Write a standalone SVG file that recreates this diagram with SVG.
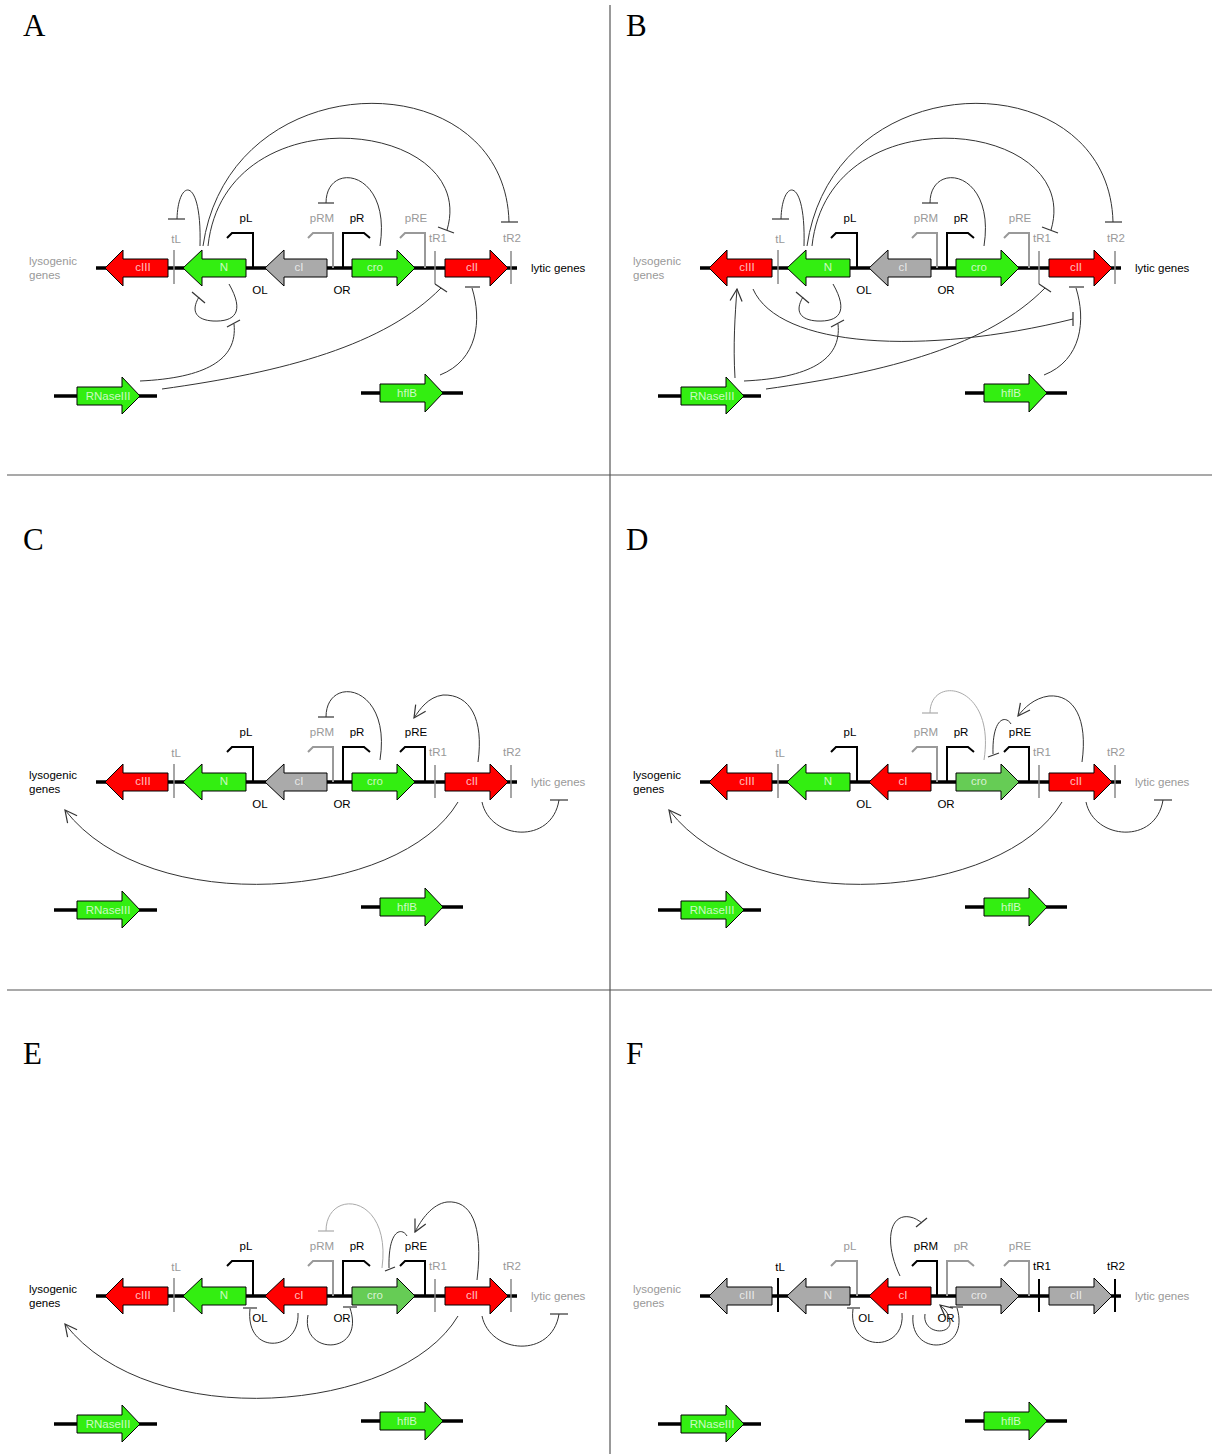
<svg xmlns="http://www.w3.org/2000/svg" width="1212" height="1454" viewBox="0 0 1212 1454">
<style>
text{font-family:"Liberation Sans",Arial,sans-serif;font-size:11.5px}
.pl{font-family:"Liberation Serif","Times New Roman",serif;font-size:31px;fill:#000}
.frame{stroke:#555;stroke-width:1.2}
.gl{stroke:#000;stroke-width:3.5}
.gene{stroke:#000;stroke-width:1}
.red{fill:#ff0000}.grn{fill:#33ee11}.gry{fill:#aaaaaa}.lgr{fill:#66cc55}
.glab{fill:#fff;fill-opacity:.75;text-anchor:middle}
.lk{fill:#000}.lg{fill:#999}
.mid{text-anchor:middle}
.pk{fill:none;stroke:#000;stroke-width:2}
.pg{fill:none;stroke:#999;stroke-width:2}
.tg{stroke:#888;stroke-width:1.5}
.tk{stroke:#000;stroke-width:2}
.con{fill:none;stroke:#333;stroke-width:1}
.cong{fill:none;stroke:#aaa;stroke-width:1}
.tb{stroke:#333;stroke-width:1.2}
.tbg{stroke:#aaa;stroke-width:1.2}
.ar{marker-end:url(#arr)}
</style>
<defs>
<marker id="arr" viewBox="0 0 14 14" refX="13" refY="7" markerWidth="14" markerHeight="14" markerUnits="userSpaceOnUse" orient="auto">
<path d="M1,1 L13,7 L1,13" fill="none" stroke="#333" stroke-width="1.2"/>
</marker>
</defs>
<rect width="1212" height="1454" fill="#fff"/>
<g id="frame">
<line class="frame" x1="610" y1="5" x2="610" y2="1454"/>
<line class="frame" x1="7" y1="475" x2="1212" y2="475"/>
<line class="frame" x1="7" y1="990" x2="1212" y2="990"/>
</g>

<!-- PANEL A -->
<g id="panelA">
<text class="pl" x="23" y="36">A</text>
<g id="A-genome">
<line class="gl" x1="96" y1="268" x2="517" y2="268"/>
<text class="lg" x="29" y="265">lysogenic</text><text class="lg" x="29" y="279">genes</text>
<text class="lk" x="531" y="272">lytic genes</text>
<polygon class="gene red" points="105,268 123,250 123,259 168,259 168,277 123,277 123,286"/><text class="glab" x="143" y="271">cIII</text>
<polygon class="gene grn" points="183,268 202,250 202,259 246,259 246,277 202,277 202,286"/><text class="glab" x="224" y="271">N</text>
<polygon class="gene gry" points="265,268 284,250 284,259 327,259 327,277 284,277 284,286"/><text class="glab" x="299" y="271">cI</text>
<polygon class="gene grn" points="352,259 397,259 397,250 415,268 397,286 397,277 352,277"/><text class="glab" x="375" y="271">cro</text>
<polygon class="gene red" points="445,259 490,259 490,250 508,268 490,286 490,277 445,277"/><text class="glab" x="472" y="271">cII</text>
<line class="tg" x1="174" y1="250" x2="174" y2="284"/><text class="lg mid" x="176" y="243">tL</text>
<line class="tg" x1="435" y1="251" x2="435" y2="284"/><text class="lg mid" x="438" y="242">tR1</text>
<line class="tg" x1="511" y1="251" x2="511" y2="284"/><text class="lg mid" x="512" y="242">tR2</text>
<path class="pk" d="M253,268 V233 H232 L227,238"/><text class="lk mid" x="246" y="222">pL</text>
<path class="pg" d="M333,268 V233 H313 L308,238"/><text class="lg mid" x="322" y="222">pRM</text>
<path class="pk" d="M343,268 V233 H364 L370,238"/><text class="lk mid" x="357" y="222">pR</text>
<path class="pg" d="M425,268 V233 H405 L400,238"/><text class="lg mid" x="416" y="222">pRE</text>
<text class="lk mid" x="260" y="294">OL</text><text class="lk mid" x="342" y="294">OR</text>
<line class="gl" x1="54" y1="396" x2="157" y2="396"/>
<polygon class="gene grn" points="77,387 122,387 122,377 140,396 122,414 122,405 77,405"/><text class="glab" x="108" y="400">RNaseIII</text>
<line class="gl" x1="361" y1="393" x2="463" y2="393"/>
<polygon class="gene grn" points="380,384 425,384 425,374 443,393 425,412 425,402 380,402"/><text class="glab" x="407" y="397">hflB</text>
</g>
<g id="A-connectors">
<path class="con" d="M200,246 C202,175 178,178 177,219"/><line class="tb" x1="168" y1="219" x2="185" y2="219"/>
<path class="con" d="M203,246 C230,60 505,60 509,222"/><line class="tb" x1="501" y1="222" x2="518" y2="222"/>
<path class="con" d="M208,246 C225,90 480,120 447,230"/><line class="tb" x1="438" y1="227" x2="454" y2="233"/>
<path class="con" d="M380,246 C392,170 326,160 326,203"/><line class="tb" x1="318" y1="203" x2="334" y2="203"/>
<path class="con" d="M229,284 C245,312 235,322 213,321 C197,320 190,312 199,297"/><line class="tb" x1="192" y1="292" x2="205" y2="303"/>
<path class="con" d="M140,381 C205,378 238,360 234,324"/><line class="tb" x1="227" y1="327" x2="240" y2="320"/>
<path class="con" d="M162,389 C285,372 385,345 441,288"/><line class="tb" x1="435" y1="284" x2="447" y2="292"/>
<path class="con" d="M440,375 C478,360 482,320 472,288"/><line class="tb" x1="465" y1="287" x2="480" y2="287"/>
</g>
</g>

<!-- PANEL B -->
<g id="panelB">
<text class="pl" x="626" y="36">B</text>
<g transform="translate(604,0)">
<g id="B-genome">
<line class="gl" x1="96" y1="268" x2="517" y2="268"/>
<text class="lg" x="29" y="265">lysogenic</text><text class="lg" x="29" y="279">genes</text>
<text class="lk" x="531" y="272">lytic genes</text>
<polygon class="gene red" points="105,268 123,250 123,259 168,259 168,277 123,277 123,286"/><text class="glab" x="143" y="271">cIII</text>
<polygon class="gene grn" points="183,268 202,250 202,259 246,259 246,277 202,277 202,286"/><text class="glab" x="224" y="271">N</text>
<polygon class="gene gry" points="265,268 284,250 284,259 327,259 327,277 284,277 284,286"/><text class="glab" x="299" y="271">cI</text>
<polygon class="gene grn" points="352,259 397,259 397,250 415,268 397,286 397,277 352,277"/><text class="glab" x="375" y="271">cro</text>
<polygon class="gene red" points="445,259 490,259 490,250 508,268 490,286 490,277 445,277"/><text class="glab" x="472" y="271">cII</text>
<line class="tg" x1="174" y1="250" x2="174" y2="284"/><text class="lg mid" x="176" y="243">tL</text>
<line class="tg" x1="435" y1="251" x2="435" y2="284"/><text class="lg mid" x="438" y="242">tR1</text>
<line class="tg" x1="511" y1="251" x2="511" y2="284"/><text class="lg mid" x="512" y="242">tR2</text>
<path class="pk" d="M253,268 V233 H232 L227,238"/><text class="lk mid" x="246" y="222">pL</text>
<path class="pg" d="M333,268 V233 H313 L308,238"/><text class="lg mid" x="322" y="222">pRM</text>
<path class="pk" d="M343,268 V233 H364 L370,238"/><text class="lk mid" x="357" y="222">pR</text>
<path class="pg" d="M425,268 V233 H405 L400,238"/><text class="lg mid" x="416" y="222">pRE</text>
<text class="lk mid" x="260" y="294">OL</text><text class="lk mid" x="342" y="294">OR</text>
<line class="gl" x1="54" y1="396" x2="157" y2="396"/>
<polygon class="gene grn" points="77,387 122,387 122,377 140,396 122,414 122,405 77,405"/><text class="glab" x="108" y="400">RNaseIII</text>
<line class="gl" x1="361" y1="393" x2="463" y2="393"/>
<polygon class="gene grn" points="380,384 425,384 425,374 443,393 425,412 425,402 380,402"/><text class="glab" x="407" y="397">hflB</text>
</g>
<g id="B-connectors">
<path class="con" d="M200,246 C202,175 178,178 177,219"/><line class="tb" x1="168" y1="219" x2="185" y2="219"/>
<path class="con" d="M203,246 C230,60 505,60 509,222"/><line class="tb" x1="501" y1="222" x2="518" y2="222"/>
<path class="con" d="M208,246 C225,90 480,120 447,230"/><line class="tb" x1="438" y1="227" x2="454" y2="233"/>
<path class="con" d="M380,246 C392,170 326,160 326,203"/><line class="tb" x1="318" y1="203" x2="334" y2="203"/>
<path class="con" d="M229,284 C245,312 235,322 213,321 C197,320 190,312 199,297"/><line class="tb" x1="192" y1="292" x2="205" y2="303"/>
<path class="con" d="M140,381 C205,378 238,360 234,324"/><line class="tb" x1="227" y1="327" x2="240" y2="320"/>
<path class="con" d="M162,389 C285,372 385,345 441,288"/><line class="tb" x1="435" y1="284" x2="447" y2="292"/>
<path class="con" d="M440,375 C478,360 482,320 472,288"/><line class="tb" x1="465" y1="287" x2="480" y2="287"/>
<path class="con ar" d="M131,378 C129,345 131,315 133,289"/>
<path class="con" d="M149,289 C175,348 320,356 469,319"/><line class="tb" x1="469" y1="312" x2="469" y2="326"/>
</g>
</g>
</g>

<!-- PANEL C -->
<g id="panelC">
<text class="pl" x="23" y="550">C</text>
<g transform="translate(0,514)">
<g id="C-genome">
<line class="gl" x1="96" y1="268" x2="517" y2="268"/>
<text class="lk" x="29" y="265">lysogenic</text><text class="lk" x="29" y="279">genes</text>
<text class="lg" x="531" y="272">lytic genes</text>
<polygon class="gene red" points="105,268 123,250 123,259 168,259 168,277 123,277 123,286"/><text class="glab" x="143" y="271">cIII</text>
<polygon class="gene grn" points="183,268 202,250 202,259 246,259 246,277 202,277 202,286"/><text class="glab" x="224" y="271">N</text>
<polygon class="gene gry" points="265,268 284,250 284,259 327,259 327,277 284,277 284,286"/><text class="glab" x="299" y="271">cI</text>
<polygon class="gene grn" points="352,259 397,259 397,250 415,268 397,286 397,277 352,277"/><text class="glab" x="375" y="271">cro</text>
<polygon class="gene red" points="445,259 490,259 490,250 508,268 490,286 490,277 445,277"/><text class="glab" x="472" y="271">cII</text>
<line class="tg" x1="174" y1="250" x2="174" y2="284"/><text class="lg mid" x="176" y="243">tL</text>
<line class="tg" x1="435" y1="251" x2="435" y2="284"/><text class="lg mid" x="438" y="242">tR1</text>
<line class="tg" x1="511" y1="251" x2="511" y2="284"/><text class="lg mid" x="512" y="242">tR2</text>
<path class="pk" d="M253,268 V233 H232 L227,238"/><text class="lk mid" x="246" y="222">pL</text>
<path class="pg" d="M333,268 V233 H313 L308,238"/><text class="lg mid" x="322" y="222">pRM</text>
<path class="pk" d="M343,268 V233 H364 L370,238"/><text class="lk mid" x="357" y="222">pR</text>
<path class="pk" d="M425,268 V233 H405 L400,238"/><text class="lk mid" x="416" y="222">pRE</text>
<text class="lk mid" x="260" y="294">OL</text><text class="lk mid" x="342" y="294">OR</text>
<line class="gl" x1="54" y1="396" x2="157" y2="396"/>
<polygon class="gene grn" points="77,387 122,387 122,377 140,396 122,414 122,405 77,405"/><text class="glab" x="108" y="400">RNaseIII</text>
<line class="gl" x1="361" y1="393" x2="463" y2="393"/>
<polygon class="gene grn" points="380,384 425,384 425,374 443,393 425,412 425,402 380,402"/><text class="glab" x="407" y="397">hflB</text>
</g>
<g id="C-connectors">
<path class="con" d="M380,246 C392,170 326,160 326,203"/><line class="tb" x1="318" y1="203" x2="334" y2="203"/>
<path class="con ar" d="M478,248 C484,205 470,180 443,181 C428,183 420,195 414,204"/>
<path class="con ar" d="M458,288 C400,386 150,406 65,296"/>
<path class="con" d="M482,288 C490,326 552,331 559,286"/><line class="tb" x1="550" y1="286" x2="568" y2="286"/>
</g>
</g>
</g>

<!-- PANEL D -->
<g id="panelD">
<text class="pl" x="626" y="550">D</text>
<g transform="translate(604,514)">
<g id="D-genome">
<line class="gl" x1="96" y1="268" x2="517" y2="268"/>
<text class="lk" x="29" y="265">lysogenic</text><text class="lk" x="29" y="279">genes</text>
<text class="lg" x="531" y="272">lytic genes</text>
<polygon class="gene red" points="105,268 123,250 123,259 168,259 168,277 123,277 123,286"/><text class="glab" x="143" y="271">cIII</text>
<polygon class="gene grn" points="183,268 202,250 202,259 246,259 246,277 202,277 202,286"/><text class="glab" x="224" y="271">N</text>
<polygon class="gene red" points="265,268 284,250 284,259 327,259 327,277 284,277 284,286"/><text class="glab" x="299" y="271">cI</text>
<polygon class="gene lgr" points="352,259 397,259 397,250 415,268 397,286 397,277 352,277"/><text class="glab" x="375" y="271">cro</text>
<polygon class="gene red" points="445,259 490,259 490,250 508,268 490,286 490,277 445,277"/><text class="glab" x="472" y="271">cII</text>
<line class="tg" x1="174" y1="250" x2="174" y2="284"/><text class="lg mid" x="176" y="243">tL</text>
<line class="tg" x1="435" y1="251" x2="435" y2="284"/><text class="lg mid" x="438" y="242">tR1</text>
<line class="tg" x1="511" y1="251" x2="511" y2="284"/><text class="lg mid" x="512" y="242">tR2</text>
<path class="pk" d="M253,268 V233 H232 L227,238"/><text class="lk mid" x="246" y="222">pL</text>
<path class="pg" d="M333,268 V233 H313 L308,238"/><text class="lg mid" x="322" y="222">pRM</text>
<path class="pk" d="M343,268 V233 H364 L370,238"/><text class="lk mid" x="357" y="222">pR</text>
<path class="pk" d="M425,268 V233 H405 L400,238"/><text class="lk mid" x="416" y="222">pRE</text>
<text class="lk mid" x="260" y="294">OL</text><text class="lk mid" x="342" y="294">OR</text>
<line class="gl" x1="54" y1="396" x2="157" y2="396"/>
<polygon class="gene grn" points="77,387 122,387 122,377 140,396 122,414 122,405 77,405"/><text class="glab" x="108" y="400">RNaseIII</text>
<line class="gl" x1="361" y1="393" x2="463" y2="393"/>
<polygon class="gene grn" points="380,384 425,384 425,374 443,393 425,412 425,402 380,402"/><text class="glab" x="407" y="397">hflB</text>
</g>
<g id="D-connectors">
<path class="cong" d="M380,246 C392,170 326,160 326,199"/><line class="tbg" x1="318" y1="199" x2="334" y2="199"/>
<path class="con" d="M407,210 C402,201 388,203 389,240"/><line class="tb" x1="384" y1="243" x2="395" y2="239"/>
<path class="con ar" d="M478,248 C484,205 470,180 445,182 C430,184 420,194 414,202"/>
<path class="con ar" d="M458,288 C400,386 150,406 65,296"/>
<path class="con" d="M482,288 C490,326 552,331 559,286"/><line class="tb" x1="550" y1="286" x2="568" y2="286"/>
</g>
</g>
</g>

<!-- PANEL E -->
<g id="panelE">
<text class="pl" x="23" y="1064">E</text>
<g transform="translate(0,1028)">
<g id="E-genome">
<line class="gl" x1="96" y1="268" x2="517" y2="268"/>
<text class="lk" x="29" y="265">lysogenic</text><text class="lk" x="29" y="279">genes</text>
<text class="lg" x="531" y="272">lytic genes</text>
<polygon class="gene red" points="105,268 123,250 123,259 168,259 168,277 123,277 123,286"/><text class="glab" x="143" y="271">cIII</text>
<polygon class="gene grn" points="183,268 202,250 202,259 246,259 246,277 202,277 202,286"/><text class="glab" x="224" y="271">N</text>
<polygon class="gene red" points="265,268 284,250 284,259 327,259 327,277 284,277 284,286"/><text class="glab" x="299" y="271">cI</text>
<polygon class="gene lgr" points="352,259 397,259 397,250 415,268 397,286 397,277 352,277"/><text class="glab" x="375" y="271">cro</text>
<polygon class="gene red" points="445,259 490,259 490,250 508,268 490,286 490,277 445,277"/><text class="glab" x="472" y="271">cII</text>
<line class="tg" x1="174" y1="250" x2="174" y2="284"/><text class="lg mid" x="176" y="243">tL</text>
<line class="tg" x1="435" y1="251" x2="435" y2="284"/><text class="lg mid" x="438" y="242">tR1</text>
<line class="tg" x1="511" y1="251" x2="511" y2="284"/><text class="lg mid" x="512" y="242">tR2</text>
<path class="pk" d="M253,268 V233 H232 L227,238"/><text class="lk mid" x="246" y="222">pL</text>
<path class="pg" d="M333,268 V233 H313 L308,238"/><text class="lg mid" x="322" y="222">pRM</text>
<path class="pk" d="M343,268 V233 H364 L370,238"/><text class="lk mid" x="357" y="222">pR</text>
<path class="pk" d="M425,268 V233 H405 L400,238"/><text class="lk mid" x="416" y="222">pRE</text>
<text class="lk mid" x="260" y="294">OL</text><text class="lk mid" x="342" y="294">OR</text>
<line class="gl" x1="54" y1="396" x2="157" y2="396"/>
<polygon class="gene grn" points="77,387 122,387 122,377 140,396 122,414 122,405 77,405"/><text class="glab" x="108" y="400">RNaseIII</text>
<line class="gl" x1="361" y1="393" x2="463" y2="393"/>
<polygon class="gene grn" points="380,384 425,384 425,374 443,393 425,412 425,402 380,402"/><text class="glab" x="407" y="397">hflB</text>
</g>
<g id="E-connectors">
<path class="cong" d="M382,240 C392,165 326,160 326,203"/><line class="tbg" x1="318" y1="203" x2="334" y2="203"/>
<path class="con" d="M407,208 C402,199 388,201 389,240"/><line class="tb" x1="385" y1="243" x2="395" y2="239"/>
<path class="con ar" d="M477,252 C484,195 470,172 447,174 C432,176 421,192 415,204"/>
<path class="con" d="M298,285 C300,324 245,328 250,281"/><line class="tb" x1="243" y1="280" x2="257" y2="280"/>
<path class="con" d="M308,287 C300,328 366,328 350,280"/><line class="tb" x1="343" y1="279" x2="357" y2="279"/>
<path class="con ar" d="M458,288 C400,386 150,406 65,296"/>
<path class="con" d="M482,288 C490,326 552,331 559,286"/><line class="tb" x1="550" y1="286" x2="568" y2="286"/>
</g>
</g>
</g>

<!-- PANEL F -->
<g id="panelF">
<text class="pl" x="626" y="1064">F</text>
<g transform="translate(604,1028)">
<g id="F-genome">
<line class="gl" x1="96" y1="268" x2="517" y2="268"/>
<text class="lg" x="29" y="265">lysogenic</text><text class="lg" x="29" y="279">genes</text>
<text class="lg" x="531" y="272">lytic genes</text>
<polygon class="gene gry" points="105,268 123,250 123,259 168,259 168,277 123,277 123,286"/><text class="glab" x="143" y="271">cIII</text>
<polygon class="gene gry" points="183,268 202,250 202,259 246,259 246,277 202,277 202,286"/><text class="glab" x="224" y="271">N</text>
<polygon class="gene red" points="265,268 284,250 284,259 327,259 327,277 284,277 284,286"/><text class="glab" x="299" y="271">cI</text>
<polygon class="gene gry" points="352,259 397,259 397,250 415,268 397,286 397,277 352,277"/><text class="glab" x="375" y="271">cro</text>
<polygon class="gene gry" points="445,259 490,259 490,250 508,268 490,286 490,277 445,277"/><text class="glab" x="472" y="271">cII</text>
<line class="tk" x1="174" y1="250" x2="174" y2="284"/><text class="lk mid" x="176" y="243">tL</text>
<line class="tk" x1="435" y1="251" x2="435" y2="284"/><text class="lk mid" x="438" y="242">tR1</text>
<line class="tk" x1="511" y1="251" x2="511" y2="284"/><text class="lk mid" x="512" y="242">tR2</text>
<path class="pg" d="M253,268 V233 H232 L227,238"/><text class="lg mid" x="246" y="222">pL</text>
<path class="pk" d="M333,268 V233 H313 L308,238"/><text class="lk mid" x="322" y="222">pRM</text>
<path class="pg" d="M343,268 V233 H364 L370,238"/><text class="lg mid" x="357" y="222">pR</text>
<path class="pg" d="M425,268 V233 H405 L400,238"/><text class="lg mid" x="416" y="222">pRE</text>
<text class="lk mid" x="262" y="294">OL</text><text class="lk mid" x="342" y="294">OR</text>
<line class="gl" x1="54" y1="396" x2="157" y2="396"/>
<polygon class="gene grn" points="77,387 122,387 122,377 140,396 122,414 122,405 77,405"/><text class="glab" x="108" y="400">RNaseIII</text>
<line class="gl" x1="361" y1="393" x2="463" y2="393"/>
<polygon class="gene grn" points="380,384 425,384 425,374 443,393 425,412 425,402 380,402"/><text class="glab" x="407" y="397">hflB</text>
</g>
<g id="F-connectors">
<path class="con" d="M296,248 C280,215 285,185 306,189 C311,190 314,192 318,195"/><line class="tb" x1="312" y1="199" x2="323" y2="190"/>
<path class="con" d="M298,285 C302,325 243,325 249,281"/><line class="tb" x1="243" y1="280" x2="256" y2="280"/>
<path class="con" d="M309,287 C305,330 367,326 353,280"/><line class="tb" x1="346" y1="279" x2="359" y2="279"/>
<path class="con ar" d="M321,286 C318,305 345,308 346,295 C346,288 342,282 336,277"/>
</g>
</g>
</g>
</svg>
